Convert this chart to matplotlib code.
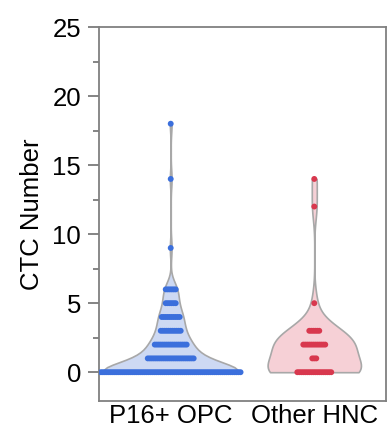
import numpy as np
import matplotlib
matplotlib.use("Agg")
import matplotlib.pyplot as plt
from matplotlib.ticker import MultipleLocator

plt.rcParams["font.family"] = ["Liberation Sans", "DejaVu Sans"]

# -----------------------------
# Data: CTC counts -> number of patients at each count
# -----------------------------
groups = ["P16+ OPC", "Other HNC"]
opc_values = [0, 1, 2, 3, 4, 5, 6, 9, 14, 18]
opc_counts = [71, 24, 17, 11, 10, 6, 6, 1, 1, 1]
hnc_values = [0, 1, 2, 3, 5, 12, 14]
hnc_counts = [18, 3, 12, 6, 1, 1, 1]

fill_colors = ["#cdd9f3", "#f6d0d6"]
dot_colors = ["#3b6fdc", "#d8384e"]
violin_widths = [0.93, 0.65]
bandwidths = [0.25, 0.35]

opc = np.repeat(opc_values, opc_counts)
hnc = np.repeat(hnc_values, hnc_counts)

fig = plt.figure(figsize=(3.88, 4.30), dpi=100)
ax = fig.add_axes([0.255, 0.067, 0.74, 0.87])

# -----------------------------
# Violins
# -----------------------------
for i, (data, vals, cnts) in enumerate([(opc, opc_values, opc_counts),
                                        (hnc, hnc_values, hnc_counts)]):
    parts = ax.violinplot(data, positions=[i], widths=violin_widths[i],
                          showextrema=False, bw_method=bandwidths[i])
    for b in parts["bodies"]:
        b.set_facecolor(fill_colors[i])
        b.set_edgecolor("#a8a8a8")
        b.set_linewidth(1.2)
        b.set_alpha(1)

    # dots, spread in rows like a swarm
    step = 0.0139
    for v, c in zip(vals, cnts):
        xs = i + (np.arange(c) - (c - 1) / 2) * step
        ax.scatter(xs, np.full(c, v), s=18, color=dot_colors[i],
                   edgecolors="none", zorder=3)

# -----------------------------
# Axes styling
# -----------------------------
ax.set_xlim(-0.5, 1.5)
ax.set_ylim(-2.1, 25)
ax.set_xticks([0, 1])
ax.set_xticklabels(groups, fontsize=18.5)
ax.tick_params(axis="x", length=0, pad=2)
ax.yaxis.set_major_locator(MultipleLocator(5))
ax.yaxis.set_minor_locator(MultipleLocator(2.5))
ax.tick_params(axis="y", which="major", length=8, width=1.2, color="#707070",
               labelsize=18.5, pad=5)
ax.tick_params(axis="y", which="minor", length=4, width=1.2, color="#707070")
ax.set_ylabel("CTC Number", fontsize=18.5, labelpad=6)
for s in ax.spines.values():
    s.set_color("#808080")
    s.set_linewidth(1.3)

plt.savefig("out.png", dpi=100)
plt.close()
